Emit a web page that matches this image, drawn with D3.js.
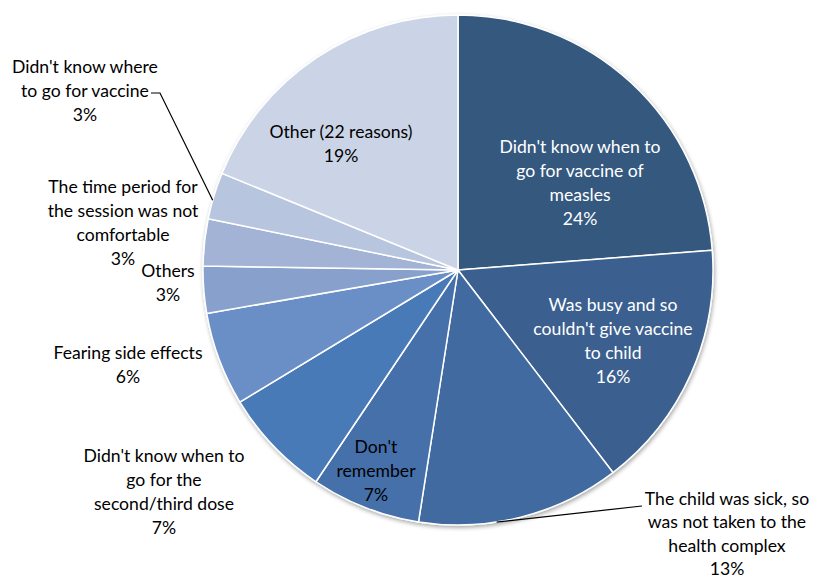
<!DOCTYPE html>
<html>
<head>
<meta charset="utf-8">
<script src="https://cdn.jsdelivr.net/npm/d3@7"></script>
<style>
  html, body { margin: 0; padding: 0; background: #fff; }
  svg { display: block; }
  text { font-family: Lato, "Open Sans", sans-serif; font-size: 17.6px; }
</style>
</head>
<body>
<svg id="chart" width="816" height="580"></svg>
<script>
// Reasons for missed measles vaccination, share of respondents (%)
const reasons = [
  "Didn't know when to go for vaccine of measles",
  "Was busy and so couldn't give vaccine to child",
  "The child was sick, so was not taken to the health complex",
  "Don't remember",
  "Didn't know when to go for the second/third dose",
  "Fearing side effects",
  "Others",
  "The time period for the session was not comfortable",
  "Didn't know where to go for vaccine",
  "Other (22 reasons)"
];
const shares = [24, 16, 13, 7, 7, 6, 3, 3, 3, 19];

// Wrapped label lines for each slice
const labelLines = [
  ["Didn't know when to", "go for vaccine of", "measles"],
  ["Was busy and so", "couldn't give vaccine", "to child"],
  ["The child was sick, so", "was not taken to the", "health complex"],
  ["Don't", "remember"],
  ["Didn't know when to", "go for the", "second/third dose"],
  ["Fearing side effects"],
  ["Others"],
  ["The time period for", "the session was not", "comfortable"],
  ["Didn't know where", "to go for vaccine"],
  ["Other (22 reasons)"]
];

const sliceColors = ["#34587f", "#3a5f8f", "#3f6ba0", "#4470aa", "#4a7ab8",
                     "#6a8fc6", "#87a0cc", "#a2b3d5", "#b8c5de", "#cad4e6"];

const W = 816, H = 580;
const cx = 458, cy = 270, R = 255;

const svg = d3.select("#chart");

// soft drop shadow under the pie
const defs = svg.append("defs");
const f = defs.append("filter").attr("id", "shadow")
  .attr("x", "-10%").attr("y", "-10%").attr("width", "120%").attr("height", "120%");
f.append("feDropShadow").attr("dx", 1).attr("dy", 2).attr("stdDeviation", 2)
  .attr("flood-color", "#000").attr("flood-opacity", 0.35);

const pie = d3.pie().sort(null).value(d => d)(shares);
const arc = d3.arc().innerRadius(0).outerRadius(R);

const g = svg.append("g").attr("transform", `translate(${cx},${cy})`);

g.append("g").attr("filter", "url(#shadow)")
  .selectAll("path")
  .data(pie)
  .join("path")
  .attr("d", arc)
  .attr("fill", (d, i) => sliceColors[i])
  .attr("stroke", "#fff")
  .attr("stroke-width", 1.5)
  .attr("stroke-linejoin", "round");

// label placement (center of first line) and colour
const labelPos = [
  { x: 580, y: 147, color: "#fff" },
  { x: 613, y: 305, color: "#fff" },
  { x: 727, y: 499, color: "#000" },
  { x: 376, y: 447, color: "#000" },
  { x: 164, y: 456, color: "#000" },
  { x: 128, y: 353, color: "#000" },
  { x: 168, y: 271, color: "#000" },
  { x: 123, y: 187, color: "#000" },
  { x: 85,  y: 67,  color: "#000" },
  { x: 341, y: 132, color: "#000" }
];
const lineH = 23.8;

const labels = svg.append("g");
labelLines.forEach((lines, i) => {
  const p = labelPos[i];
  const t = labels.append("text")
    .attr("text-anchor", "middle")
    .attr("fill", p.color);
  const all = lines.concat([shares[i] + "%"]);
  all.forEach((s, k) => {
    t.append("tspan")
      .attr("x", p.x)
      .attr("y", p.y + k * (i === 2 ? 23.2 : lineH))
      .attr("dy", "0.35em")
      .text(s);
  });
});

// leader lines for labels placed outside their slices
function edgePoint(i, frac) {
  const d = pie[i];
  const a = d.startAngle + (d.endAngle - d.startAngle) * frac;
  return [cx + R * Math.sin(a), cy - R * Math.cos(a)];
}
const sick = edgePoint(2, 0.62);
const where = edgePoint(8, 0.4);
const leaders = [
  [sick, [642, 506]],
  [[151, 93], [160, 93], where]
];
svg.append("g").selectAll("path")
  .data(leaders)
  .join("path")
  .attr("d", d => d3.line()(d))
  .attr("fill", "none")
  .attr("stroke", "#000")
  .attr("stroke-width", 1.2);
</script>
</body>
</html>
